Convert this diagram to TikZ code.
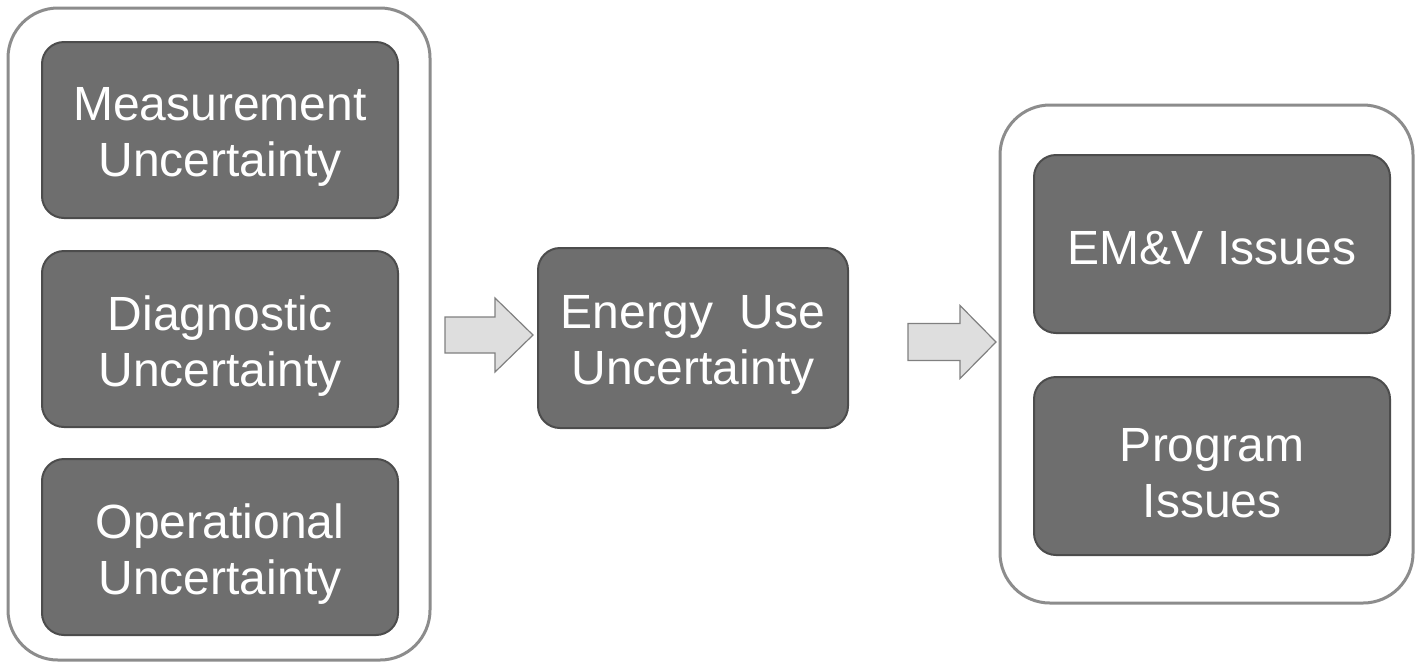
\documentclass[tikz,border=0pt]{standalone}
\usepackage{fontspec}
\setmainfont{Liberation Sans}
\begin{document}
\begin{tikzpicture}[x=0.5pt,y=-0.5pt,
  outerbox/.style={draw=black!45, line width=1.5pt, rounded corners=25pt, fill=white},
  innerbox/.style={draw=black!70, line width=1pt, fill=black!57, rounded corners=11pt, inner sep=0pt},
  boxtext/.style={text=white, font=\fontsize{24}{28}\selectfont, align=center, inner sep=0pt, yshift=-3.5pt},
  blockarrow/.style={draw=black!50, line width=0.6pt, fill=black!13}]
\useasboundingbox (0,0) rectangle (1416,666);
% outer containers
\draw[outerbox] (8,8) rectangle (430,660);
\draw[outerbox] (1000,105) rectangle (1413,603);
% left column boxes
\node[innerbox, minimum width=178pt, minimum height=88pt,
  label={[boxtext]center:Measurement\\Uncertainty}] (meas) at (220,130) {};
\node[innerbox, minimum width=178pt, minimum height=88pt,
  label={[boxtext]center:Diagnostic\\Uncertainty}] (diag) at (220,339) {};
\node[innerbox, minimum width=178pt, minimum height=88pt,
  label={[boxtext]center:Operational\\Uncertainty}] (oper) at (220,547) {};
% middle
\node[innerbox, minimum width=155pt, minimum height=90pt,
  label={[boxtext]center:Energy\ \ Use\\Uncertainty}] (energy) at (693,338) {};
% right
\node[innerbox, minimum width=178pt, minimum height=89pt,
  label={[boxtext,yshift=1.5pt]center:EM\&V Issues}] (emv) at (1212,244) {};
\node[innerbox, minimum width=178pt, minimum height=89pt,
  label={[boxtext]center:Program\\Issues}] (prog) at (1212,466) {};
% block arrows
\coordinate (a1) at (445,335);
\coordinate (a2) at (908,342);
\draw[blockarrow] (a1) ++(0,-18) -- ++(50,0) -- ++(0,-19) -- ++(38,37) -- ++(-38,37) -- ++(0,-19) -- ++(-50,0) -- cycle;
\draw[blockarrow] (a2) ++(0,-18.5) -- ++(52,0) -- ++(0,-18) -- ++(36,36.5) -- ++(-36,36.5) -- ++(0,-18) -- ++(-52,0) -- cycle;
\end{tikzpicture}
\end{document}
